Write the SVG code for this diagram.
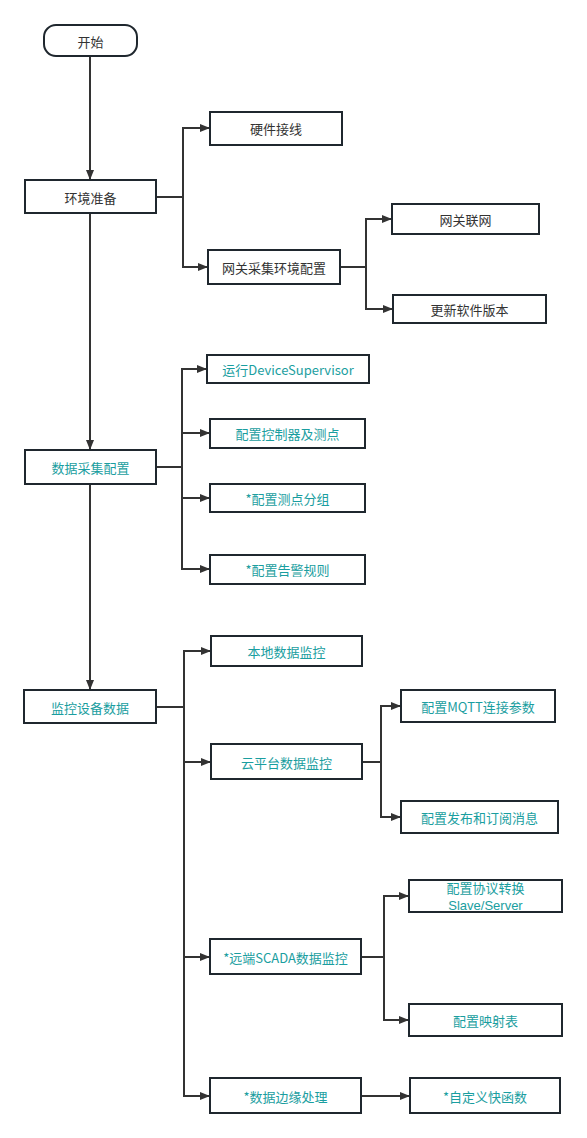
<svg xmlns="http://www.w3.org/2000/svg" width="587" height="1138" viewBox="0 0 587 1138">
<style>
.b{fill:#fff;stroke:#1f272e;stroke-width:2}
.t{font-family:"Noto Sans CJK SC","Liberation Sans",sans-serif;font-size:13px;text-anchor:middle;dominant-baseline:central}
.lat{font-family:"Liberation Sans","Noto Sans CJK SC",sans-serif}
.g{fill:#333}
.c{fill:#1a9ea0}
.l{fill:none;stroke:#333;stroke-width:2}
</style>
<defs>
<marker id="a" markerWidth="10" markerHeight="10" refX="10" refY="5" orient="auto" markerUnits="userSpaceOnUse">
<path d="M0,1 L10,5 L0,9 Z" fill="#333"/>
</marker>
</defs>
<rect width="587" height="1138" fill="#fff"/>
<g id="connectors">
<path class="l" d="M90,56 V180" marker-end="url(#a)"/>
<path class="l" d="M156,197 H183 V128 H210" marker-end="url(#a)"/>
<path class="l" d="M183,197 V267 H208" marker-end="url(#a)"/>
<path class="l" d="M340,267 H366 V219 H392" marker-end="url(#a)"/>
<path class="l" d="M366,267 V309 H393" marker-end="url(#a)"/>
<path class="l" d="M90,213 V450" marker-end="url(#a)"/>
<path class="l" d="M156,467 H182 V369 H207" marker-end="url(#a)"/>
<path class="l" d="M182,467 V433 H210" marker-end="url(#a)"/>
<path class="l" d="M182,467 V498 H210" marker-end="url(#a)"/>
<path class="l" d="M182,467 V569 H210" marker-end="url(#a)"/>
<path class="l" d="M90,484 V690" marker-end="url(#a)"/>
<path class="l" d="M156,707 H184 V651 H211" marker-end="url(#a)"/>
<path class="l" d="M184,707 V762 H211" marker-end="url(#a)"/>
<path class="l" d="M184,707 V957 H210" marker-end="url(#a)"/>
<path class="l" d="M184,707 V1096 H210" marker-end="url(#a)"/>
<path class="l" d="M362,762 H381 V706 H401" marker-end="url(#a)"/>
<path class="l" d="M381,762 V817 H401" marker-end="url(#a)"/>
<path class="l" d="M361,957 H384 V896 H409" marker-end="url(#a)"/>
<path class="l" d="M384,957 V1020 H409" marker-end="url(#a)"/>
<path class="l" d="M361,1096 H410" marker-end="url(#a)"/>
</g>
<g id="start"><rect class="b" x="44" y="25" width="93" height="31" rx="12"/><text class="t g" x="90.5" y="41">开始</text></g>
<g id="env"><rect class="b" x="25" y="180" width="131" height="33"/><text class="t g" x="90.5" y="197">环境准备</text></g>
<g id="hw"><rect class="b" x="210" y="112" width="132" height="33"/><text class="t g" x="276" y="128">硬件接线</text></g>
<g id="gwenv"><rect class="b" x="208" y="250" width="132" height="34"/><text class="t g" x="274" y="267">网关采集环境配置</text></g>
<g id="gwnet"><rect class="b" x="392" y="204" width="147" height="30"/><text class="t g" x="465.5" y="219">网关联网</text></g>
<g id="upd"><rect class="b" x="393" y="295" width="153" height="28"/><text class="t g" x="469.5" y="309">更新软件版本</text></g>
<g id="daq"><rect class="b" x="25" y="450" width="131" height="34"/><text class="t c" x="90.5" y="467">数据采集配置</text></g>
<g id="ds"><rect class="b" x="207" y="355" width="162" height="28"/><text class="t c" x="288" y="369">运行DeviceSupervisor</text></g>
<g id="ctrl"><rect class="b" x="210" y="419" width="155" height="29"/><text class="t c" x="287.5" y="433.5">配置控制器及测点</text></g>
<g id="grp"><rect class="b" x="210" y="484" width="155" height="28"/><text class="t c" x="287.5" y="498">*配置测点分组</text></g>
<g id="alarm"><rect class="b" x="210" y="555" width="155" height="29"/><text class="t c" x="287.5" y="569.5">*配置告警规则</text></g>
<g id="mon"><rect class="b" x="24" y="690" width="132" height="33"/><text class="t c" x="90" y="707">监控设备数据</text></g>
<g id="local"><rect class="b" x="211" y="636" width="151" height="30"/><text class="t c" x="286.5" y="651">本地数据监控</text></g>
<g id="cloud"><rect class="b" x="211" y="744" width="151" height="35"/><text class="t c" x="286.5" y="762">云平台数据监控</text></g>
<g id="mqtt"><rect class="b" x="401" y="690" width="154" height="32"/><text class="t c" x="478" y="706">配置MQTT连接参数</text></g>
<g id="pub"><rect class="b" x="401" y="801" width="157" height="32"/><text class="t c" x="479.5" y="817">配置发布和订阅消息</text></g>
<g id="scada"><rect class="b" x="210" y="939" width="151" height="35"/><text class="t c" x="285.5" y="957">*远端SCADA数据监控</text></g>
<g id="proto"><rect class="b" x="409" y="880" width="153" height="32"/><text class="t c" x="485.5" y="887.5">配置协议转换</text><text class="t c lat" x="485.5" y="905.5">Slave/Server</text></g>
<g id="map"><rect class="b" x="409" y="1004" width="153" height="32"/><text class="t c" x="485.5" y="1020">配置映射表</text></g>
<g id="edge"><rect class="b" x="210" y="1078" width="151" height="35"/><text class="t c" x="285.5" y="1096">*数据边缘处理</text></g>
<g id="func"><rect class="b" x="410" y="1078" width="150" height="35"/><text class="t c" x="485" y="1096">*自定义快函数</text></g>
</svg>
